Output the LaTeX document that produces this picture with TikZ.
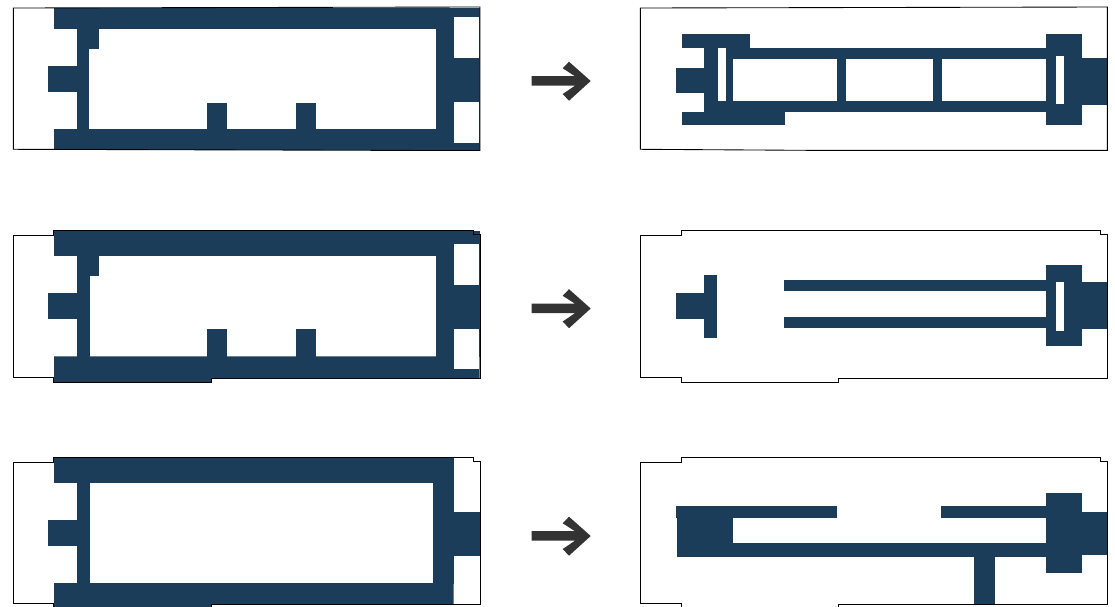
\documentclass[tikz,border=0pt]{standalone}
\definecolor{wallblue}{HTML}{1C3D5A}
\definecolor{arrowgray}{HTML}{333333}
\tikzset{
  wall/.style={fill=wallblue,draw=none},
  gap/.style={fill=white,draw=none},
  outline/.style={draw=black,line width=0.65pt,line join=miter},
  arrowmark/.style={fill=arrowgray,draw=none}
}
\newcommand{\wallrect}[4]{\fill[wall] (#1,#2) rectangle (#3,#4);}
\newcommand{\gaprect}[4]{\fill[gap] (#1,#2) rectangle (#3,#4);}
\newcommand{\goarrow}[1]{\fill[arrowmark,shift={(0,#1)}] (531.5,-4.8) -- (575,-4.8) -- (562.7,-12.7) -- (569,-19.3) -- (590.7,0) -- (569,19.7) -- (562.7,13) -- (575,4.7) -- (531.5,4.7) -- cycle;}
\begin{document}
\begin{tikzpicture}[x=0.75pt,y=-0.75pt]
\useasboundingbox (0,0) rectangle (1115,607);
\clip (0,0) rectangle (1115,607);
\fill[white] (0,0) rectangle (1115,607);

% ---------- row 1, left
\wallrect{54}{7.5}{479.5}{29.3}
\wallrect{77}{29}{89.4}{130}
\wallrect{77}{29}{98.6}{49}
\wallrect{47.6}{66}{77.5}{92}
\wallrect{54}{129.4}{480}{150.3}
\wallrect{436}{29}{479.5}{130}
\gaprect{453.7}{17}{479}{58}
\gaprect{453.7}{102}{479}{143}
\wallrect{206.7}{103}{226.5}{130}
\wallrect{295.7}{103}{315.6}{130}
\draw[outline] (13.4,8) -- (480,7) -- (480,150.5) -- (436,150.5) -- (13.4,149.3) -- cycle;

% ---------- row 1, right
\wallrect{681.7}{34}{749.7}{48.2}
\wallrect{726}{48}{1047}{59}
\wallrect{704}{48}{717.7}{112}
\wallrect{726}{48}{732.5}{112}
\wallrect{704}{100.7}{1047}{111.8}
\wallrect{681.7}{111.6}{784.8}{125}
\wallrect{675.7}{68}{705}{92.7}
\wallrect{837}{58}{845.7}{101}
\wallrect{933}{58}{942}{101}
\wallrect{1046}{34}{1082}{125}
\gaprect{1056}{56}{1064}{104}
\wallrect{1081}{58}{1107.2}{105}
\draw[outline] (640.4,8) -- (1107.4,7) -- (1107.4,150.4) -- (820,150.4) -- (640.4,149.3) -- cycle;

% ---------- row 2, left
\wallrect{53.7}{230.5}{479.5}{256}
\wallrect{77}{255}{89.5}{357}
\wallrect{77}{255}{98.6}{276}
\wallrect{47.6}{293}{77.5}{319}
\fill[wall] (54,356.3) -- (479.5,356.3) -- (479.5,378) -- (211,378) -- (211,382.5) -- (54,382.5) -- cycle;
\wallrect{436}{255}{479.5}{357}
\gaprect{453.7}{244}{479}{285}
\gaprect{453.7}{329}{479}{369}
\wallrect{206.7}{329}{226.5}{357}
\wallrect{295.7}{329}{315.6}{357}
\draw[outline] (13.4,235.6) -- (53.7,235.6) -- (53.7,230.4) -- (473,230.4) -- (473,234) -- (480,234) -- (480,378) -- (211,378) -- (211,382.5) -- (53.7,382.5) -- (53.7,377.2) -- (13.4,377.2) -- cycle;

% ---------- row 2, right
\wallrect{704}{275}{717}{338}
\wallrect{675.7}{293}{705}{319}
\wallrect{784}{280}{1047}{291}
\wallrect{784}{317}{1047}{328}
\wallrect{1046}{265}{1082}{346}
\gaprect{1056}{282}{1064}{331}
\wallrect{1081}{282}{1107.2}{329}
\draw[outline] (640.4,235.6) -- (681.2,235.6) -- (681.2,230.4) -- (1100,230.4) -- (1100,234) -- (1107.4,234) -- (1107.4,378) -- (838,378) -- (838,382.5) -- (681.2,382.5) -- (681.2,377.2) -- (640.4,377.2) -- cycle;

% ---------- row 3, left
\wallrect{53.7}{457}{453.6}{483}
\wallrect{77}{482}{89.5}{584}
\wallrect{47.6}{520}{77.5}{546}
\wallrect{433}{482}{453.6}{584}
\wallrect{453}{512}{479.7}{556}
\fill[wall] (54,583) -- (453.6,583) -- (453.6,604.6) -- (211,604.6) -- (211,607) -- (54,607) -- cycle;
\draw[outline] (13.4,462.2) -- (53.7,462.2) -- (53.7,457) -- (473,457) -- (473,461) -- (480,461) -- (480,604.6) -- (211,604.6) -- (211,610) -- (53.7,610) -- (53.7,603.6) -- (13.4,603.6) -- cycle;

% ---------- row 3, right
\wallrect{675.7}{506}{837}{518}
\wallrect{677}{517}{732.7}{557}
\wallrect{677}{543}{1047}{557}
\wallrect{941}{506}{1047}{518}
\wallrect{974}{556}{995}{604.6}
\wallrect{1046}{493}{1082}{573}
\wallrect{1081}{512}{1107.2}{555}
\draw[outline] (640.4,462.2) -- (681.2,462.2) -- (681.2,457) -- (1100,457) -- (1100,461) -- (1107.4,461) -- (1107.4,604.6) -- (838,604.6) -- (838,610) -- (681.2,610) -- (681.2,603.6) -- (640.4,603.6) -- cycle;

% ---------- arrows
\goarrow{81}
\goarrow{308.5}
\goarrow{536}
\end{tikzpicture}
\end{document}
